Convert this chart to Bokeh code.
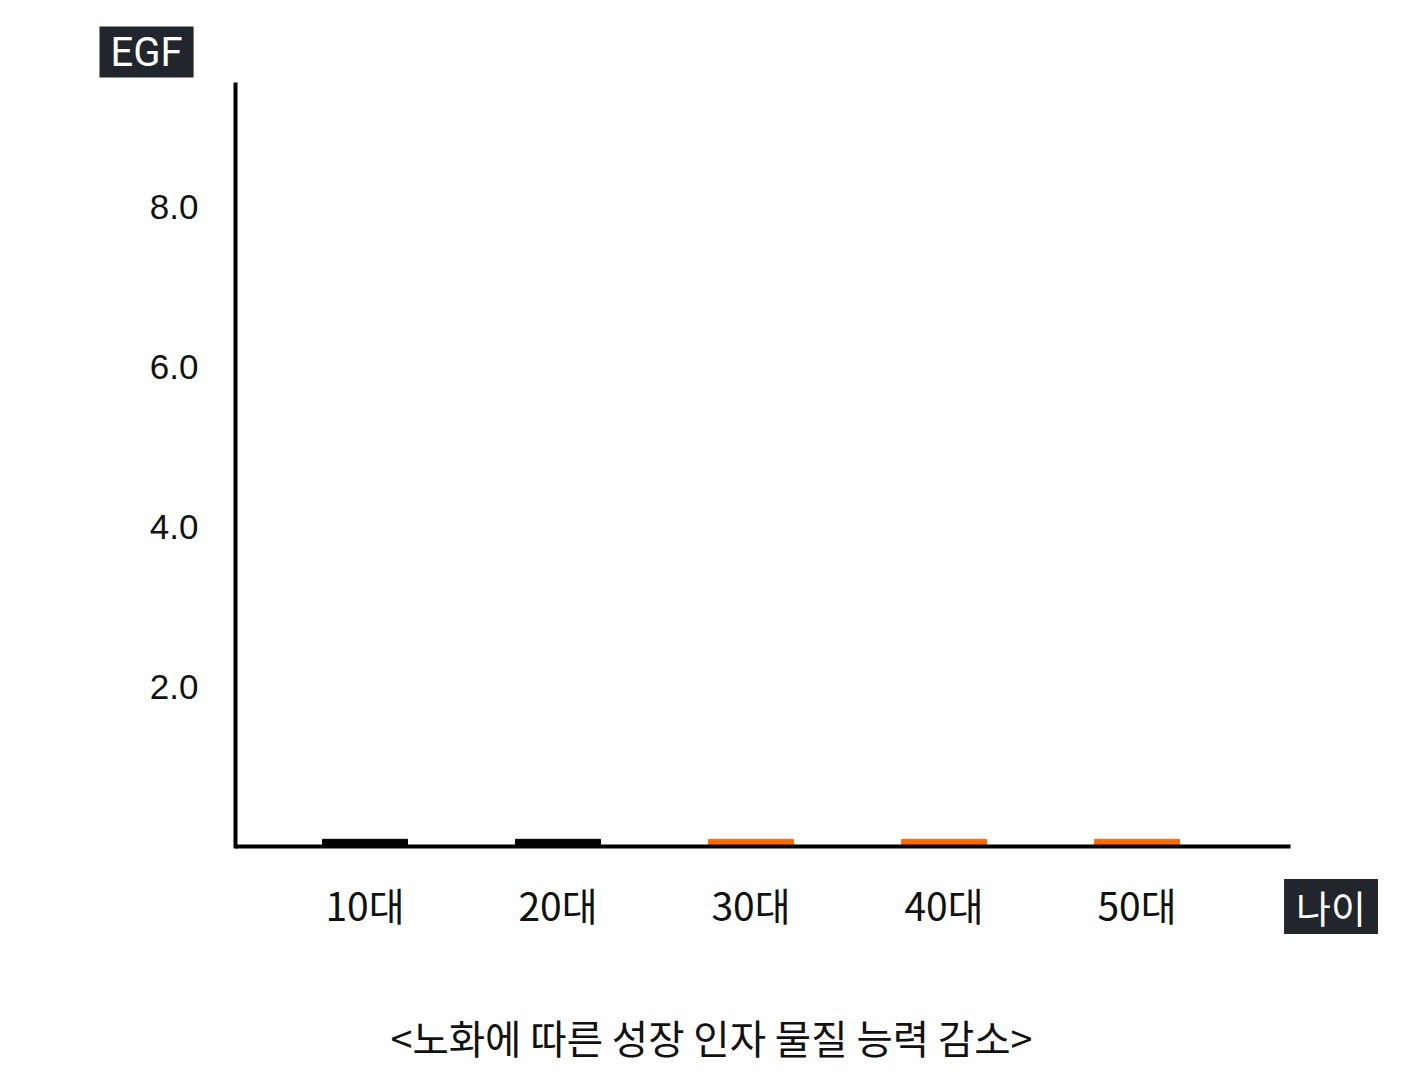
from bokeh.plotting import figure
from bokeh.models import ColumnDataSource, Range1d, FixedTicker, Label, Title
from bokeh.embed import file_html
from bokeh.resources import INLINE

# data
ages = ["10대", "20대", "30대", "40대", "50대"]
age_pos = [1, 2, 3, 4, 5]
egf = [0.09, 0.09, 0.09, 0.09, 0.09]
y_ticks = [2.0, 4.0, 6.0, 8.0]
title_text = "<노화에 따른 성장 인자 물질 능력 감소>"
y_name = "EGF"
x_name = "나이"

# styles
bar_colors = ["#000000", "#000000", "#ff6b00", "#ff6b00", "#ff6b00"]
KR = "Noto Sans CJK KR"
box_color = "#22252b"

src = ColumnDataSource(dict(x=age_pos, top=egf, color=bar_colors))

# frame: x 235..1400 px, y 82..1000 px ; 193 px per category, 80 px per unit
p = figure(width=1412, height=1072, output_backend="svg", toolbar_location=None,
           x_range=Range1d(0.329, 6.365), y_range=Range1d(-1.925, 9.55),
           min_border_left=235, min_border_right=12,
           min_border_top=82, min_border_bottom=72)
p.outline_line_color = None
p.xgrid.visible = False
p.ygrid.visible = False
p.background_fill_color = "white"
p.border_fill_color = "white"

p.vbar(x="x", top="top", bottom=0, width=0.44, color="color", source=src)

for ax in (p.xaxis[0], p.yaxis[0]):
    ax.axis_line_width = 4
    ax.axis_line_color = "#000000"
    ax.major_tick_line_color = None
    ax.minor_tick_line_color = None
    ax.major_tick_out = 0
    ax.major_tick_in = 0
    ax.minor_tick_out = 0

xa = p.xaxis[0]
xa.fixed_location = 0
xa.bounds = (0.319, 5.795)
xa.ticker = FixedTicker(ticks=age_pos)
xa.major_label_overrides = {pos: lab for pos, lab in zip(age_pos, ages)}
xa.major_label_text_font = KR
xa.major_label_text_font_size = "39px"
xa.major_label_text_color = "#111111"
xa.major_label_standoff = 29

ya = p.yaxis[0]
ya.bounds = (-0.025, 9.55)
ya.ticker = FixedTicker(ticks=y_ticks)
ya.major_label_overrides = {t: f"{t:.1f}" for t in y_ticks}
ya.major_label_text_font = "Liberation Sans"
ya.major_label_text_font_size = "35px"
ya.major_label_text_color = "#111111"
ya.major_label_standoff = 37

# x-axis name box (inside the extended frame)
p.add_layout(Label(x=6.005, y=-0.75, text=x_name,
                   text_font=KR, text_font_size="38px", text_color="white",
                   text_align="center", text_baseline="middle",
                   background_fill_color=box_color,
                   padding=dict(left=12, right=12, top=0, bottom=0)))

# y-axis name box
t_egf = Title(text=y_name, align="left", offset=-136, text_font="Roboto",
              text_font_size="40px", text_color="white", text_font_style="normal",
              background_fill_color=box_color,
              padding=dict(left=11, right=11, top=2, bottom=2))
p.add_layout(t_egf, "above")

# caption
t = Title(text=title_text, align="left", offset=155, text_font=KR,
          text_font_size="39.5px", text_color="#111111", text_font_style="normal")
p.add_layout(t, "below")

open("out.html", "w").write(file_html(p, INLINE))
